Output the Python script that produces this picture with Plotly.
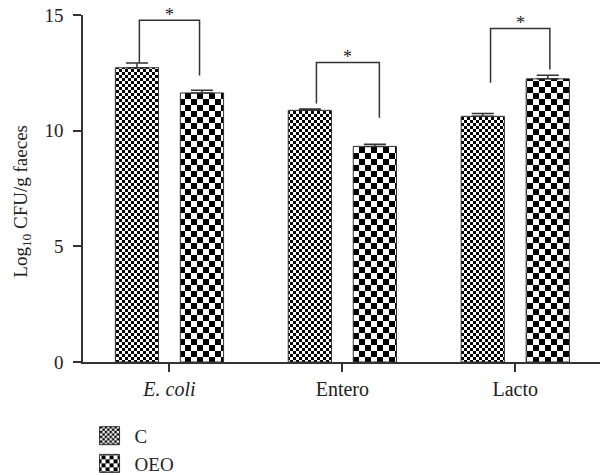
import plotly.graph_objects as go

categories = ["<i>E. coli</i>", "Entero", "Lacto"]
c_values = [12.72, 10.88, 10.62]
c_err = [0.21, 0.06, 0.12]
oeo_values = [11.63, 9.32, 12.24]
oeo_err = [0.12, 0.09, 0.16]

bracket_top = [14.77, 12.95, 14.42]
bracket_left_bottom = [12.93, 11.17, 12.07]
bracket_right_bottom = [12.39, 10.56, 12.64]
bracket_left_dx = [-0.174, -0.150, -0.143]
bracket_right_dx = [0.174, 0.214, 0.200]
sig_labels = ["*", "*", "*"]
y_title = "Log<sub>10</sub> CFU/g faeces"

x_pos = list(range(len(categories)))
FONT = "Liberation Serif"
LINE = "#333333"

fig = go.Figure()
fig.add_trace(go.Bar(
    x=x_pos, y=c_values, name="C", width=0.25, offset=-0.313,
    marker=dict(color="white", line=dict(color=LINE, width=1),
                pattern=dict(shape="+", size=6, fgcolor="black", bgcolor="white", solidity=0.5)),
    error_y=dict(type="data", array=c_err, arrayminus=[0]*3, symmetric=False,
                 color=LINE, thickness=1.5, width=11),
))
fig.add_trace(go.Bar(
    x=x_pos, y=oeo_values, name="OEO", width=0.25, offset=0.063,
    marker=dict(color="white", line=dict(color=LINE, width=1),
                pattern=dict(shape="+", size=12, fgcolor="black", bgcolor="white", solidity=0.5)),
    error_y=dict(type="data", array=oeo_err, arrayminus=[0]*3, symmetric=False,
                 color=LINE, thickness=1.5, width=11),
))

for i in range(len(categories)):
    xl = x_pos[i] + bracket_left_dx[i]
    xr = x_pos[i] + bracket_right_dx[i]
    fig.add_shape(type="path",
                  path=f"M {xl},{bracket_left_bottom[i]} L {xl},{bracket_top[i]} L {xr},{bracket_top[i]} L {xr},{bracket_right_bottom[i]}",
                  line=dict(color=LINE, width=1.5), xref="x", yref="y")
    fig.add_annotation(x=(xl + xr) / 2, y=bracket_top[i], text=sig_labels[i],
                       showarrow=False, yanchor="middle", yshift=5,
                       font=dict(family=FONT, size=18, color="#222"))

fig.add_annotation(x=-0.118, y=0.465, xref="paper", yref="paper", text=y_title,
                   textangle=-90, showarrow=False, xanchor="center", yanchor="middle",
                   font=dict(family=FONT, size=19, color="#222"))

fig.update_layout(
    width=600, height=473,
    margin=dict(l=83, r=0, t=15, b=111, autoexpand=False),
    plot_bgcolor="white", paper_bgcolor="white",
    font=dict(family=FONT, size=19, color="#222"),
    showlegend=True,
    legend=dict(x=0.003, y=-0.158, xanchor="left", yanchor="top",
                font=dict(family=FONT, size=19, color="#222"),
                bgcolor="rgba(0,0,0,0)", tracegroupgap=0, itemwidth=40),
)
fig.update_xaxes(range=[-0.5, 2.49], tickvals=x_pos, ticktext=categories,
                 showline=True, linecolor=LINE, linewidth=1.5,
                 ticks="outside", ticklen=8, tickcolor=LINE, tickwidth=1.5,
                 automargin=False,
                 showgrid=False, zeroline=False, tickfont=dict(size=20))
fig.update_yaxes(range=[0, 15], tickvals=[0, 5, 10, 15],
                 showline=True, linecolor=LINE, linewidth=1.5,
                 ticks="outside", ticklen=8, tickcolor=LINE, tickwidth=1.5,
                 ticklabelstandoff=6, automargin=False,
                 showgrid=False, zeroline=False, tickfont=dict(size=19))

post = """
document.body.style.margin = '0';
function checker(){
  var ns = 'http://www.w3.org/2000/svg';
  var pats = document.querySelectorAll('pattern');
  pats.forEach(function(p){
    var w = parseFloat(p.getAttribute('width'));
    if(!w) return;
    var h = w/2;
    while(p.firstChild) p.removeChild(p.firstChild);
    var bg = document.createElementNS(ns,'rect');
    bg.setAttribute('x',0); bg.setAttribute('y',0);
    bg.setAttribute('width',w); bg.setAttribute('height',w);
    bg.setAttribute('fill','white');
    p.appendChild(bg);
    [[0,0],[h,h]].forEach(function(o){
      var r = document.createElementNS(ns,'rect');
      r.setAttribute('x',o[0]); r.setAttribute('y',o[1]);
      r.setAttribute('width',h); r.setAttribute('height',h);
      r.setAttribute('fill','black');
      p.appendChild(r);
    });
  });
  document.querySelectorAll('.legend .legendpoints path').forEach(function(el){
    el.setAttribute('d','M10,9H-10V-9H10Z');
  });
}
checker();
"""
fig.write_html("out.html", post_script=post, config={"displayModeBar": False})
